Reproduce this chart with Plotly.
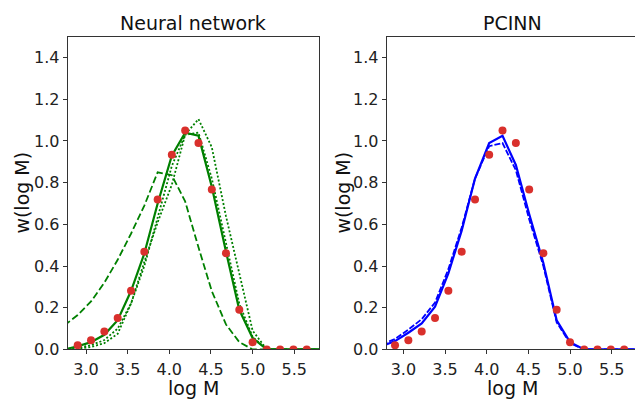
import plotly.graph_objects as go

# ---- data ----
dot_x = [2.90, 3.06, 3.22, 3.38, 3.54, 3.70, 3.86, 4.03, 4.19, 4.35, 4.51, 4.68,
         4.84, 5.00, 5.17, 5.33, 5.49, 5.65]
dot_y = [0.02, 0.044, 0.086, 0.151, 0.281, 0.469, 0.719, 0.934, 1.05, 0.99, 0.767,
         0.462, 0.19, 0.034, 0.0, 0.0, 0.0, 0.0]

curve_x = [2.74, 2.90, 3.06, 3.22, 3.38, 3.54, 3.70, 3.86, 4.03, 4.19, 4.35, 4.51,
           4.68, 4.84, 5.00, 5.17, 5.33, 5.49, 5.65, 5.81]

nn_solid = [0.0, 0.015, 0.035, 0.07, 0.14, 0.28, 0.46, 0.70, 0.93, 1.04, 1.025, 0.78,
            0.47, 0.19, 0.055, 0.0, 0.0, 0.0, 0.0, 0.0]
nn_dashed = [0.115, 0.165, 0.23, 0.32, 0.43, 0.555, 0.69, 0.85, 0.836, 0.71, 0.49, 0.28,
             0.12, 0.035, 0.0, 0.0, 0.0, 0.0, 0.0, 0.0]
nn_dotted_a = [0.0, 0.008, 0.02, 0.045, 0.10, 0.22, 0.40, 0.63, 0.88, 1.03, 1.04, 0.82,
               0.51, 0.22, 0.06, 0.0, 0.0, 0.0, 0.0, 0.0]
nn_dotted_b = [0.0, 0.004, 0.012, 0.03, 0.075, 0.22, 0.42, 0.61, 0.79, 1.03, 1.105, 0.97,
               0.64, 0.36, 0.09, 0.0, 0.0, 0.0, 0.0, 0.0]

pc_solid = [0.015, 0.04, 0.08, 0.125, 0.205, 0.365, 0.57, 0.82, 0.99, 1.025, 0.885, 0.65,
            0.415, 0.14, 0.035, 0.0, 0.0, 0.0, 0.0, 0.0]
pc_dashed = [0.025, 0.05, 0.095, 0.145, 0.225, 0.385, 0.585, 0.82, 0.975, 0.99, 0.86, 0.625,
             0.40, 0.13, 0.03, 0.0, 0.0, 0.0, 0.0, 0.0]

x_ticks = [3.0, 3.5, 4.0, 4.5, 5.0, 5.5]
y_ticks = [0.0, 0.2, 0.4, 0.6, 0.8, 1.0, 1.2, 1.4]
titles = ["Neural network", "PCINN"]
x_title = "log M"
y_title = "w(log M)"

# ---- layout geometry (pixels) ----
W, H = 635, 404
L1, R1 = 67.7, 319.0
L2, R2 = 386.7, 635.0
TOP, BOT = 37.7, 358.3

def fx(px):
    return px / W

def fy(py):
    return (H - py) / H

GREEN = "#008000"
BLUE = "#0000ff"
RED = "#d9302c"
FONT = "DejaVu Sans"

fig = go.Figure()

# left panel
fig.add_trace(go.Scatter(x=curve_x, y=nn_dashed, mode="lines", xaxis="x", yaxis="y",
                         line=dict(color=GREEN, width=1.8, dash="7px,3px")))
fig.add_trace(go.Scatter(x=curve_x, y=nn_dotted_a, mode="lines", xaxis="x", yaxis="y",
                         line=dict(color=GREEN, width=1.8, dash="2px,2px")))
fig.add_trace(go.Scatter(x=curve_x, y=nn_dotted_b, mode="lines", xaxis="x", yaxis="y",
                         line=dict(color=GREEN, width=1.8, dash="2px,2px")))
fig.add_trace(go.Scatter(x=curve_x, y=nn_solid, mode="lines", xaxis="x", yaxis="y",
                         line=dict(color=GREEN, width=2.2)))
fig.add_trace(go.Scatter(x=dot_x, y=dot_y, mode="markers", xaxis="x", yaxis="y",
                         marker=dict(color=RED, size=8)))

# right panel
fig.add_trace(go.Scatter(x=curve_x, y=pc_dashed, mode="lines", xaxis="x2", yaxis="y2",
                         line=dict(color=BLUE, width=1.8, dash="6px,2px")))
fig.add_trace(go.Scatter(x=curve_x, y=pc_solid, mode="lines", xaxis="x2", yaxis="y2",
                         line=dict(color=BLUE, width=2.2)))
fig.add_trace(go.Scatter(x=dot_x, y=dot_y, mode="markers", xaxis="x2", yaxis="y2",
                         marker=dict(color=RED, size=8)))

axis_common = dict(showline=True, linecolor="#333", linewidth=1, showgrid=False,
                   zeroline=False, ticks="outside", ticklen=4, tickcolor="#333",
                   tickfont=dict(family=FONT, size=16, color="#222"))

fig.update_layout(
    width=W, height=H,
    margin=dict(l=0, r=0, t=0, b=0),
    paper_bgcolor="white", plot_bgcolor="white",
    showlegend=False,
    xaxis=dict(domain=[fx(L1), fx(R1)], range=[2.78, 5.797], anchor="y",
               tickvals=x_ticks, ticktext=[f"{v:.1f}" for v in x_ticks],
               mirror=True, ticklabelstandoff=1, **axis_common),
    yaxis=dict(domain=[fy(BOT), fy(TOP)], range=[0, 1.5], anchor="x",
               tickvals=y_ticks, ticktext=[f"{v:.1f}" for v in y_ticks],
               mirror=True, **axis_common),
    xaxis2=dict(domain=[fx(L2), 1.0], range=[2.80, 5.78], anchor="y2",
                tickvals=x_ticks, ticktext=[f"{v:.1f}" for v in x_ticks],
                mirror=True, ticklabelstandoff=1, **axis_common),
    yaxis2=dict(domain=[fy(BOT), fy(TOP)], range=[0, 1.5], anchor="x2",
                tickvals=y_ticks, ticktext=[f"{v:.1f}" for v in y_ticks],
                mirror=False, **axis_common),
)

ann_font = dict(family=FONT, size=19, color="#111")
centers = [(L1 + R1) / 2, (L2 + 638.0) / 2]
for cx, t in zip(centers, titles):
    fig.add_annotation(text=t, x=fx(cx), y=fy(36.5), xref="paper", yref="paper",
                       xanchor="center", yanchor="bottom", showarrow=False, font=ann_font)
    fig.add_annotation(text=x_title, x=fx(cx), y=fy(404), xref="paper", yref="paper",
                       xanchor="center", yanchor="bottom", yshift=-7, showarrow=False,
                       font=ann_font)
for yx in [22.5, 343.5]:
    fig.add_annotation(text=y_title, x=fx(yx), y=fy((TOP + BOT) / 2), xref="paper",
                       yref="paper", xanchor="center", yanchor="middle", textangle=-90,
                       showarrow=False, font=ann_font)

fig.write_html("out.html", config={"displayModeBar": False},
               post_script="document.body.style.margin='0';document.body.style.overflow='hidden';")
